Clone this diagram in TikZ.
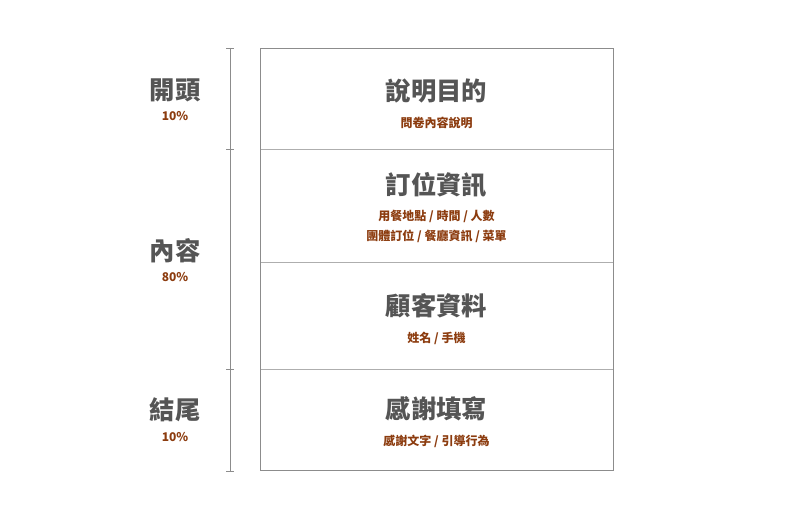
\documentclass[tikz,border=0pt]{standalone}
\usepackage{fontspec}
\setmainfont{Noto Sans CJK TC}
\definecolor{titlegray}{RGB}{85,85,85}
\definecolor{subbrown}{RGB}{140,60,15}
\definecolor{linegray}{RGB}{140,140,140}
\tikzset{
    title/.style={font=\fontsize{19}{22}\selectfont\bfseries, text=titlegray, inner sep=0pt},
    sub/.style={font=\fontsize{9}{15.5}\selectfont\bfseries, text=subbrown, inner sep=0pt, align=center},
}
\begin{document}
\begin{tikzpicture}[x=0.75pt,y=-0.75pt]
                \useasboundingbox (0,0) rectangle (800,517);
                \draw[linegray, semithick] (230,48) -- (230,471);
                \foreach \i in {48, 149, 369, 471}{
                    \draw[linegray] (226,\i) -- (234,\i);
                }
                \draw[linegray] (260.5,48.5) rectangle (613,470);
                \foreach \i in {149, 262, 369}{
                    \draw[linegray!70] (260.5,\i) -- (613,\i);
                }
                \node[title] (purpose) at (436.5,91) {說明目的};
                \node[sub] (purposesub) at (436.5,123) {問卷內容說明};
                \node[title] (booking) at (436.5,185) {訂位資訊};
                \node[sub] (bookingsub) at (436.5,226.5) {用餐地點 / 時間 / 人數\\團體訂位 / 餐廳資訊 / 菜單};
                \node[title] (customer) at (436.5,306) {顧客資料};
                \node[sub] (customersub) at (436.5,338) {姓名 / 手機};
                \node[title] (thanks) at (436.5,409) {感謝填寫};
                \node[sub] (thankssub) at (436.5,441) {感謝文字 / 引導行為};
                \node[title] (head) at (175,90) {開頭};
                \node[sub] (headpct) at (175,116) {10\%};
                \node[title] (body) at (175,251) {內容};
                \node[sub] (bodypct) at (175,277) {80\%};
                \node[title] (tail) at (175,410) {結尾};
                \node[sub] (tailpct) at (175,437) {10\%};
            \end{tikzpicture}
\end{document}
